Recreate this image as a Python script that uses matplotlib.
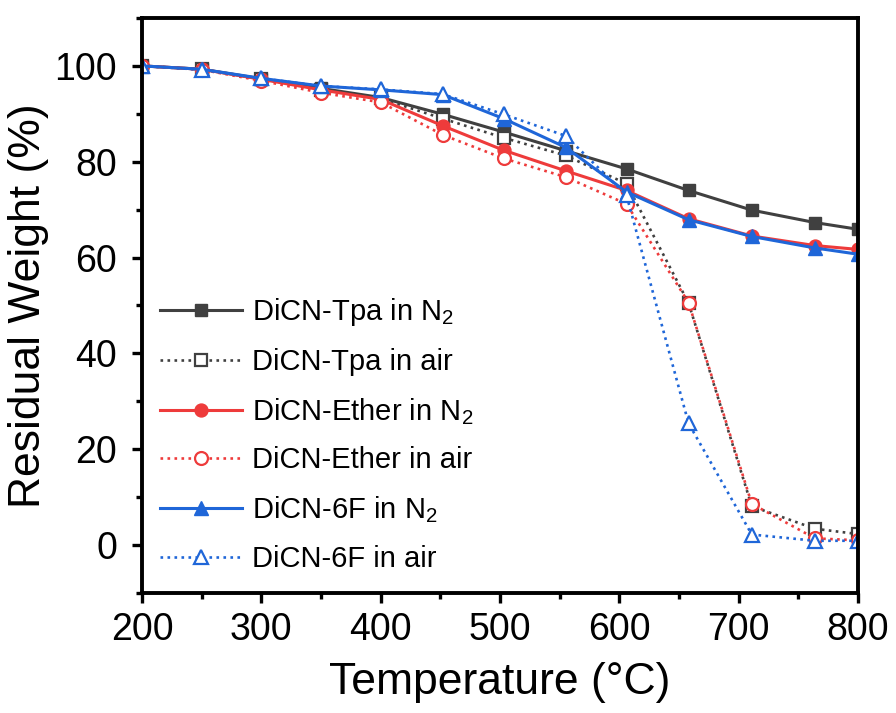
import matplotlib
matplotlib.use("Agg")
import matplotlib.pyplot as plt
from matplotlib.ticker import MultipleLocator

plt.rcParams['font.family'] = ['Liberation Sans', 'DejaVu Sans']
plt.rcParams['mathtext.fontset'] = 'custom'
plt.rcParams['mathtext.rm'] = 'Liberation Sans'
plt.rcParams['mathtext.it'] = 'Liberation Sans'
plt.rcParams['mathtext.default'] = 'regular'

temps = [200, 250, 300, 350, 400, 452, 503, 555, 606, 658, 711, 764, 800]

tpa_n2 = [100, 99.3, 97.3, 95.3, 93.4, 89.9, 86.2, 82.3, 78.5, 74.0, 69.9, 67.3, 65.9]
tpa_air = [100, 99.3, 97.2, 95.0, 93.2, 89.0, 85.0, 81.3, 75.4, 50.5, 8.1, 3.4, 2.3]
eth_n2 = [100, 99.3, 97.2, 95.0, 93.0, 87.5, 82.4, 78.1, 74.0, 68.1, 64.5, 62.5, 61.7]
eth_air = [100, 99.2, 96.9, 94.4, 92.4, 85.6, 80.7, 76.8, 71.2, 50.6, 8.6, 1.4, 1.0]
f6_n2 = [100, 99.3, 97.4, 95.8, 95.0, 94.0, 89.0, 83.0, 73.7, 67.9, 64.4, 62.0, 60.7]
f6_air = [100, 99.2, 97.4, 95.8, 95.1, 94.1, 89.9, 85.4, 73.0, 25.4, 2.2, 0.9, 0.9]

labels = ["DiCN-Tpa in N$_2$", "DiCN-Tpa in air", "DiCN-Ether in N$_2$",
          "DiCN-Ether in air", "DiCN-6F in N$_2$", "DiCN-6F in air"]

c_tpa = '#404040'
c_eth = '#ee3b3b'
c_6f = '#1f66d8'

fig = plt.figure(figsize=(8.96, 7.13), dpi=100)
ax = fig.add_axes([0.1585, 0.1683, 0.7991, 0.8065])

ms = 8.5
lw_s = 2.2
lw_d = 1.9
ax.plot(temps, tpa_n2, '-', color=c_tpa, lw=lw_s, marker='s', ms=ms, mfc=c_tpa, mec=c_tpa, label=labels[0])
ax.plot(temps, tpa_air, ':', color=c_tpa, lw=lw_d, marker='s', ms=ms, mfc='white', mec=c_tpa, mew=1.6, label=labels[1])
ax.plot(temps, eth_n2, '-', color=c_eth, lw=lw_s, marker='o', ms=ms + 0.8, mfc=c_eth, mec=c_eth, label=labels[2])
ax.plot(temps, eth_air, ':', color=c_eth, lw=lw_d, marker='o', ms=ms + 0.8, mfc='white', mec=c_eth, mew=1.6, label=labels[3])
ax.plot(temps, f6_n2, '-', color=c_6f, lw=lw_s, marker='^', ms=ms + 1.2, mfc=c_6f, mec=c_6f, label=labels[4])
ax.plot(temps, f6_air, ':', color=c_6f, lw=lw_d, marker='^', ms=ms + 1.8, mfc='white', mec=c_6f, mew=1.6, label=labels[5])

ax.set_xlim(200, 800)
ax.set_ylim(-10, 110)
ax.xaxis.set_major_locator(MultipleLocator(100))
ax.xaxis.set_minor_locator(MultipleLocator(50))
ax.yaxis.set_minor_locator(MultipleLocator(10))
ax.set_yticks([0, 20, 40, 60, 80, 100])

for s in ax.spines.values():
    s.set_linewidth(2.8)
    s.set_color('black')

ax.tick_params(which='major', direction='out', length=7, width=2.4, labelsize=27)
ax.tick_params(which='minor', direction='out', length=4, width=2.4)
ax.tick_params(axis='x', which='major', pad=7)
ax.tick_params(axis='y', which='major', pad=11)
ax.tick_params(top=False, right=False, which='both')

ax.set_xlabel('Temperature (°C)', fontsize=32, labelpad=10)
ax.set_ylabel('Residual Weight (%)', fontsize=32, labelpad=4)

leg = ax.legend(loc='lower left', bbox_to_anchor=(0.025, 0.035), frameon=False,
                fontsize=21, handlelength=2.8, handletextpad=0.35, labelspacing=0.68,
                borderaxespad=0, borderpad=0)

fig.savefig('out.png', dpi=100)
